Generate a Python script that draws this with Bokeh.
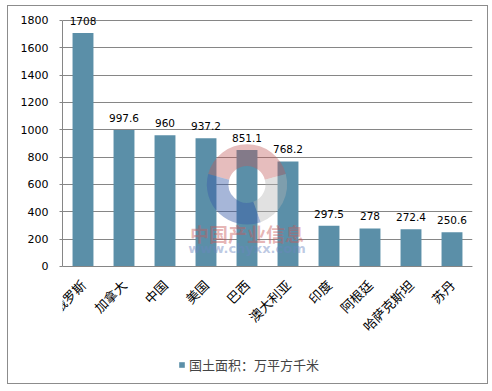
import math
from bokeh.plotting import figure
from bokeh.models import (ColumnDataSource, FactorRange, Range1d, FixedTicker,
                          Legend, LegendItem, LabelSet)
from bokeh.core.properties import value
from bokeh.embed import file_html
from bokeh.resources import INLINE

countries = ["俄罗斯", "加拿大", "中国", "美国", "巴西", "澳大利亚", "印度", "阿根廷", "哈萨克斯坦", "苏丹"]
areas = [1708, 997.6, 960, 937.2, 851.1, 768.2, 297.5, 278, 272.4, 250.6]
area_labels = ["1708", "997.6", "960", "937.2", "851.1", "768.2", "297.5", "278", "272.4", "250.6"]
y_ticks = [0, 200, 400, 600, 800, 1000, 1200, 1400, 1600, 1800]
series_name = "国土面积：万平方千米"

src = ColumnDataSource(dict(x=countries, y=areas, lab=area_labels))

p = figure(frame_width=410, frame_height=374,
           x_range=FactorRange(*countries, range_padding=0),
           y_range=Range1d(-857, 1880), output_backend="svg", toolbar_location=None,
           min_border_left=54, min_border_right=15, min_border_top=3, min_border_bottom=0)
p.outline_line_color = None
p.styles = {"border": "1px solid #8c8c8c", "margin-left": "7px", "margin-top": "5px"}

bars = p.vbar(x="x", top="y", width=0.51, source=src, fill_color="#5B8FA8", line_color=None)

# watermark logo
p.annular_wedge(x=[4.5], y=[600], inner_radius=0.45, outer_radius=0.98,
                start_angle=math.radians(15), end_angle=math.radians(165),
                fill_color="#c05a5a", fill_alpha=0.4, line_color=None)
p.annular_wedge(x=[4.5], y=[600], inner_radius=0.45, outer_radius=0.98,
                start_angle=math.radians(165), end_angle=math.radians(290),
                fill_color="#3a5ea8", fill_alpha=0.45, line_color=None)
p.annular_wedge(x=[4.5], y=[600], inner_radius=0.45, outer_radius=0.98,
                start_angle=math.radians(290), end_angle=math.radians(375),
                fill_color="#b4b4b4", fill_alpha=0.4, line_color=None)

# watermark text
p.text(x=[4.5], y=[240], text=["中国产业信息"], text_align="center", text_baseline="middle",
       text_font=value("Noto Sans CJK SC"), text_font_size="19px", text_font_style="bold",
       text_color="#c85a5a", text_alpha=0.45)
p.text(x=[4.5], y=[128], text=["www.chyxx.com"], text_align="center", text_baseline="middle",
       text_font=value("DejaVu Sans"), text_font_size="13px", text_font_style="bold",
       text_color="#6b86c0", text_alpha=0.45)

labels = LabelSet(x="x", y="y", text="lab", source=src, text_align="center",
                  text_baseline="alphabetic", y_offset=8, text_font=value("DejaVu Sans"),
                  text_font_size="10.5px", text_color="#000000")
p.add_layout(labels)

p.yaxis.ticker = FixedTicker(ticks=y_ticks)
p.yaxis.bounds = (0, 1800)
p.yaxis.axis_line_color = "#868686"
p.yaxis.major_tick_line_color = "#868686"
p.yaxis.major_tick_out = 3
p.yaxis.major_tick_in = 0
p.yaxis.minor_tick_line_color = None
p.yaxis.major_label_standoff = 11
p.yaxis.major_label_text_font = "DejaVu Sans"
p.yaxis.major_label_text_font_size = "11px"
p.yaxis.major_label_text_color = "#000000"

p.xaxis.fixed_location = 0
p.xaxis.axis_line_color = "#868686"
p.xaxis.major_tick_line_color = None
p.xaxis.minor_tick_line_color = None
p.xaxis.major_label_orientation = math.pi / 4
p.xaxis.major_label_text_font = "Noto Sans CJK SC"
p.xaxis.major_label_text_font_size = "13px"
p.xaxis.major_label_text_color = "#000000"
p.xaxis.major_label_standoff = 10

p.xgrid.grid_line_color = None
p.ygrid.grid_line_color = "#868686"

legend = Legend(items=[LegendItem(label=series_name, renderers=[bars])],
                orientation="horizontal", location=(116, 9),
                label_text_font="Noto Sans CJK SC", label_text_font_size="13px",
                glyph_width=7, glyph_height=7, border_line_color=None,
                background_fill_alpha=0, margin=0, padding=0, label_standoff=4)
p.add_layout(legend)

open("out.html", "w").write(file_html(p, INLINE))
